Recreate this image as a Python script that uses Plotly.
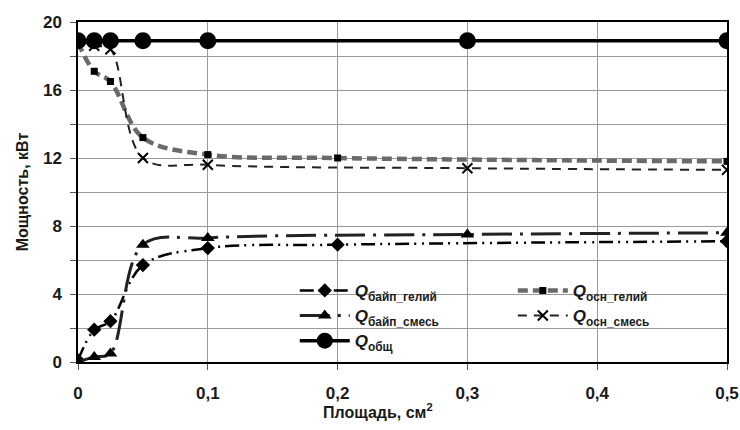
import plotly.graph_objects as go

# ---- data ----
x_bg = [0, 0.0125, 0.025, 0.05, 0.1, 0.2, 0.5]
q_bypass_he = [0.1, 1.9, 2.4, 5.7, 6.7, 6.9, 7.1]

x_bs = [0, 0.0125, 0.025, 0.05, 0.1, 0.3, 0.5]
q_bypass_mix = [0.0, 0.3, 0.5, 6.9, 7.3, 7.5, 7.6]

x_tot = [0, 0.0125, 0.025, 0.05, 0.1, 0.3, 0.5]
q_total = [18.9, 18.9, 18.9, 18.9, 18.9, 18.9, 18.9]

x_mg = [0, 0.0125, 0.025, 0.05, 0.1, 0.2, 0.5]
q_main_he = [18.8, 17.1, 16.5, 13.2, 12.2, 12.0, 11.8]

x_ms = [0, 0.0125, 0.025, 0.05, 0.1, 0.3, 0.5]
q_main_mix = [18.9, 18.6, 18.4, 12.0, 11.6, 11.4, 11.3]

x_ticks = [0, 0.1, 0.2, 0.3, 0.4, 0.5]
y_ticks = [0, 4, 8, 12, 16, 20]

x_title = "Площадь, см<sup>2</sup>"
y_title = "Мощность, кВт"

FONT = "Liberation Sans, Arial, sans-serif"

fig = go.Figure()

fig.add_trace(go.Scatter(
    x=x_bg, y=q_bypass_he, mode="lines+markers", legend="legend",
    name="<i>Q</i><sub>байп_гелий</sub>",
    line=dict(color="black", width=2.5, shape="spline", dash="14px,5px,2px,6px,2px,5px"),
    marker=dict(symbol="diamond", size=11, color="black")))

fig.add_trace(go.Scatter(
    x=x_bs, y=q_bypass_mix, mode="lines+markers", legend="legend",
    name="<i>Q</i><sub>байп_смесь</sub>",
    line=dict(color="#222222", width=3, shape="spline", dash="30px,8px,3px,8px"),
    marker=dict(symbol="triangle-up", size=12, color="black")))

fig.add_trace(go.Scatter(
    x=x_mg, y=q_main_he, mode="lines+markers", legend="legend2",
    name="<i>Q</i><sub>осн_гелий</sub>",
    line=dict(color="#6a6a6a", width=4.5, shape="spline", dash="10px,5px"),
    marker=dict(symbol="square", size=7, color="black")))

fig.add_trace(go.Scatter(
    x=x_ms, y=q_main_mix, mode="lines+markers", legend="legend2",
    name="<i>Q</i><sub>осн_смесь</sub>",
    line=dict(color="#222222", width=2, shape="spline", dash="9px,7px"),
    marker=dict(symbol="x-thin", size=10, color="black", line=dict(width=2, color="black"))))

fig.add_trace(go.Scatter(
    x=x_tot, y=q_total, mode="lines+markers", legend="legend",
    name="<i>Q</i><sub>общ</sub>",
    line=dict(color="black", width=3.5),
    marker=dict(symbol="circle", size=17, color="black")))

leg_common = dict(
    orientation="v", xanchor="left", yanchor="top",
    bgcolor="rgba(0,0,0,0)", borderwidth=0,
    font=dict(family=FONT, size=17, color="#1a1a1a", weight="bold"),
    itemwidth=50, tracegroupgap=0,
)

fig.update_layout(
    width=740, height=430,
    margin=dict(l=78, r=13, t=22, b=68, autoexpand=False),
    paper_bgcolor="white", plot_bgcolor="white",
    separators=", ",
    font=dict(family=FONT, size=16, color="#1a1a1a"),
    showlegend=True,
    legend=dict(x=0.334, y=0.262, **leg_common),
    legend2=dict(x=0.670, y=0.262, **leg_common),
    shapes=[dict(type="rect", xref="paper", yref="paper",
                 x0=0.31, x1=0.99, y0=0.018, y1=0.258,
                 fillcolor="white", line=dict(width=0), layer="between")],
    annotations=[dict(text=x_title, xref="paper", yref="paper",
                      x=0.462, y=-0.143, xanchor="center", yanchor="middle",
                      showarrow=False,
                      font=dict(family=FONT, size=16, weight="bold", color="#1a1a1a"))],
)

fig.update_xaxes(
    range=[0, 0.5], tickvals=x_ticks,
    showgrid=True, gridcolor="#9a9a9a", gridwidth=1.2,
    showline=True, linecolor="black", linewidth=1.5, mirror=True,
    ticks="outside", ticklen=6, tickcolor="#555",
    zeroline=False, automargin=False, ticklabelstandoff=9,
    tickfont=dict(family=FONT, size=17, weight="bold"),
)
fig.update_yaxes(
    range=[0, 20], tickvals=y_ticks,
    showgrid=True, gridcolor="#9a9a9a", gridwidth=1.2,
    showline=True, linecolor="black", linewidth=1.5, mirror=True,
    ticks="outside", ticklen=6, tickcolor="#555",
    minor=dict(dtick=2, showgrid=True, gridcolor="#9a9a9a", gridwidth=1.2,
               ticks="outside", ticklen=6, tickcolor="#555"),
    zeroline=False, automargin=False, ticklabelstandoff=5,
    tickfont=dict(family=FONT, size=17, weight="bold"),
    title=dict(text=y_title, standoff=10,
               font=dict(family=FONT, size=16, weight="bold")),
)

fig.write_html("out.html", config={"displayModeBar": False},
               post_script="document.body.style.margin='0';")
